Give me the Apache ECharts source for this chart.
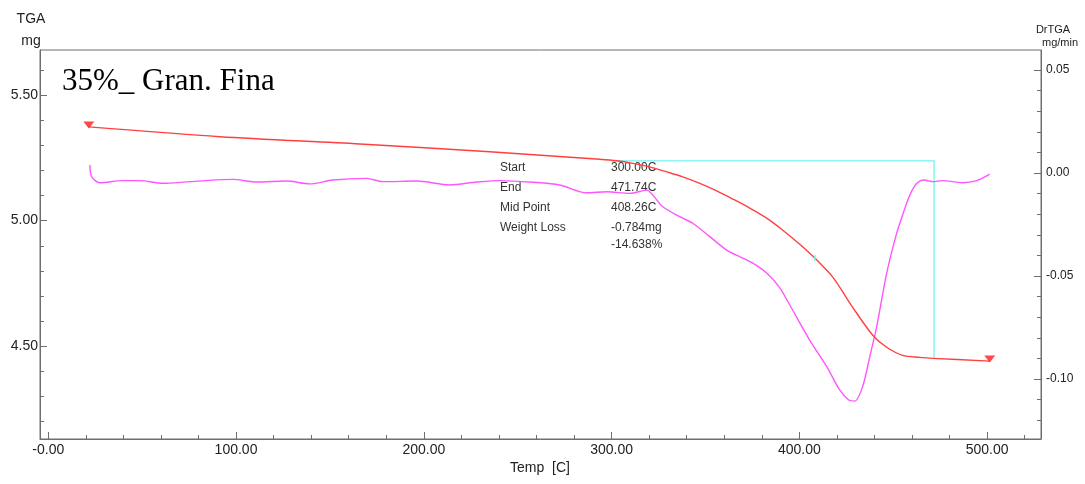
<!DOCTYPE html>
<html>
<head>
<meta charset="utf-8">
<script src="https://cdn.jsdelivr.net/npm/echarts@6/dist/echarts.min.js"></script>
<style>
html,body{margin:0;padding:0;background:#fff;}
#c{width:1085px;height:484px;}
</style>
</head>
<body>
<div id="c"></div>
<script>
// ---- data ----
const tgaTemp = [21.6, 91.4, 165.9, 235.1, 293.7, 302.8, 311.3, 320.3, 329.4, 337.9, 347.0, 356.0, 364.5, 373.6, 382.6, 391.2, 400.2, 408.2, 417.8, 428.4, 439.1, 446.5, 455.0, 464.1, 471.0, 501.4];
const tgaMass = [5.373, 5.334, 5.305, 5.274, 5.244, 5.238, 5.228, 5.214, 5.194, 5.174, 5.148, 5.118, 5.086, 5.050, 5.010, 4.962, 4.906, 4.851, 4.775, 4.655, 4.544, 4.496, 4.464, 4.456, 4.452, 4.441];

const dtgTemp = [22.2, 23.1, 27.5, 39.7, 48.8, 61.0, 75.4, 98.3, 111.1, 127.0, 139.3, 151.5, 169.6, 178.2, 196.3, 213.8, 228.2, 240.5, 258.0, 272.4, 286.8, 297.4, 309.7, 318.7, 321.9, 327.3, 336.3, 343.2, 352.3, 361.3, 368.2, 375.2, 382.6, 389.5, 396.4, 405.5, 414.6, 421.5, 426.3, 429.5, 433.7, 437.5, 441.2, 446.5, 451.8, 455.0, 458.2, 461.4, 464.1, 466.7, 471.0, 476.3, 486.9, 494.4, 501.4];
const dtgRate = [0.0039, -0.0018, -0.0047, -0.0037, -0.0037, -0.0050, -0.0042, -0.0031, -0.0044, -0.0039, -0.0053, -0.0034, -0.0026, -0.0042, -0.0039, -0.0058, -0.0044, -0.0037, -0.0045, -0.0058, -0.0096, -0.0091, -0.0099, -0.0083, -0.0107, -0.0164, -0.0212, -0.0244, -0.0309, -0.0374, -0.0406, -0.0437, -0.0485, -0.0556, -0.0665, -0.0811, -0.0940, -0.1053, -0.1102, -0.1107, -0.1037, -0.0892, -0.0746, -0.0487, -0.0293, -0.0204, -0.0121, -0.0063, -0.0039, -0.0034, -0.0042, -0.0037, -0.0047, -0.0037, -0.0005];

// step analysis (Start / End / weight loss)
const stepTemp = [300.00, 471.74, 471.74];
const stepMass = [5.238, 5.238, 4.452];
const midTemp = [408.26];
const midMass = [4.851];

const xTickValues = [0, 100, 200, 300, 400, 500];
const xTickLabels = ['-0.00', '100.00', '200.00', '300.00', '400.00', '500.00'];
const xMinorValues = [0, 20, 40, 60, 80, 100, 120, 140, 160, 180, 200, 220, 240, 260, 280, 300, 320, 340, 360, 380, 400, 420, 440, 460, 480, 500, 520];

const yLTickValues = [4.5, 5.0, 5.5];
const yLTickLabels = ['4.50', '5.00', '5.50'];
const yLMinorValues = [4.2, 4.3, 4.4, 4.5, 4.6, 4.7, 4.8, 4.9, 5.0, 5.1, 5.2, 5.3, 5.4, 5.5, 5.6];

const yRTickValues = [-0.10, -0.05, 0.00, 0.05];
const yRTickLabels = ['-0.10', '-0.05', '0.00', '0.05'];
const yRMinorValues = [-0.12, -0.11, -0.10, -0.09, -0.08, -0.07, -0.06, -0.05, -0.04, -0.03, -0.02, -0.01, 0.00, 0.01, 0.02, 0.03, 0.04, 0.05];

const annoNames = ['Start', 'End', 'Mid Point', 'Weight Loss', ''];
const annoValues = ['300.00C', '471.74C', '408.26C', '-0.784mg', '-14.638%'];

// ---- chart ----
const X_MIN = -4.4, X_MAX = 528.7;
const YL_MIN = 4.131, YL_MAX = 5.679;
const YR_MIN = -0.1291, YR_MAX = 0.0597;
const AXC = '#6e6e6e';
const FONT = '"Liberation Sans", Arial, sans-serif';

function fmt(values, labels) {
  return function (v) {
    for (let i = 0; i < values.length; i++) if (Math.abs(values[i] - v) < 1e-9) return labels[i];
    return '';
  };
}

const zip = (a, b) => a.map((v, i) => [v, b[i]]);

const chart = echarts.init(document.getElementById('c'), null, {renderer: 'canvas'});

const graphics = [
  {type: 'text', left: 62, top: 66, style: {text: '35%_ Gran. Fina', font: '31px "Liberation Serif", "Times New Roman", serif', fill: '#000'}},
  {type: 'text', x: 31, y: 19, style: {text: 'TGA', font: '14px ' + FONT, fill: '#222', align: 'center', verticalAlign: 'middle'}},
  {type: 'text', x: 31, y: 41, style: {text: 'mg', font: '14px ' + FONT, fill: '#222', align: 'center', verticalAlign: 'middle'}},
  {type: 'text', x: 1053, y: 30, style: {text: 'DrTGA', font: '11px ' + FONT, fill: '#222', align: 'center', verticalAlign: 'middle'}},
  {type: 'text', x: 1060, y: 43, style: {text: 'mg/min', font: '11px ' + FONT, fill: '#222', align: 'center', verticalAlign: 'middle'}},
  {type: 'text', x: 540, y: 468, style: {text: 'Temp  [C]', font: '14px ' + FONT, fill: '#222', align: 'center', verticalAlign: 'middle'}}
];
const annoY = [168, 188, 208, 228, 245];
annoNames.forEach((n, i) => {
  if (n) graphics.push({type: 'text', x: 500, y: annoY[i], style: {text: n, font: '12px ' + FONT, fill: '#333', verticalAlign: 'middle'}});
  graphics.push({type: 'text', x: 611, y: annoY[i], style: {text: annoValues[i], font: '12px ' + FONT, fill: '#333', verticalAlign: 'middle'}});
});

const baseAxis = {
  splitLine: {show: false},
  axisLine: {show: true, onZero: false, lineStyle: {color: AXC, width: 1}},
  axisTick: {show: true, inside: true, length: 7, lineStyle: {color: AXC}},
  axisLabel: {show: true, color: '#222', fontSize: 14, fontFamily: FONT}
};

const option = {
  animation: false,
  backgroundColor: '#fff',
  grid: {left: 40, right: 44, top: 50, bottom: 45, show: true, borderColor: AXC, borderWidth: 1, backgroundColor: 'transparent'},
  graphic: graphics,
  xAxis: [
    Object.assign({}, baseAxis, {
      type: 'value', min: X_MIN, max: X_MAX, position: 'bottom',
      axisTick: {show: true, inside: true, length: 7, lineStyle: {color: AXC}, customValues: xTickValues},
      axisLabel: {show: true, color: '#222', fontSize: 14, fontFamily: FONT, margin: 4, customValues: xTickValues, formatter: fmt(xTickValues, xTickLabels)}
    }),
    {
      type: 'value', min: X_MIN, max: X_MAX, position: 'bottom', splitLine: {show: false},
      axisLine: {show: false, onZero: false},
      axisTick: {show: true, inside: true, length: 4, lineStyle: {color: AXC}, customValues: xMinorValues},
      axisLabel: {show: false}
    }
  ],
  yAxis: [
    Object.assign({}, baseAxis, {
      type: 'value', min: YL_MIN, max: YL_MAX, position: 'left',
      axisTick: {show: true, inside: true, length: 7, lineStyle: {color: AXC}, customValues: yLTickValues},
      axisLabel: {show: true, color: '#222', fontSize: 14, fontFamily: FONT, margin: 2, customValues: yLTickValues, formatter: fmt(yLTickValues, yLTickLabels)}
    }),
    {
      type: 'value', min: YL_MIN, max: YL_MAX, position: 'left', splitLine: {show: false},
      axisLine: {show: false, onZero: false},
      axisTick: {show: true, inside: true, length: 4, lineStyle: {color: AXC}, customValues: yLMinorValues},
      axisLabel: {show: false}
    },
    Object.assign({}, baseAxis, {
      type: 'value', min: YR_MIN, max: YR_MAX, position: 'right',
      axisTick: {show: true, inside: true, length: 7, lineStyle: {color: AXC}, customValues: yRTickValues},
      axisLabel: {show: true, color: '#222', fontSize: 12, fontFamily: FONT, margin: 5, customValues: yRTickValues, formatter: fmt(yRTickValues, yRTickLabels)}
    }),
    {
      type: 'value', min: YR_MIN, max: YR_MAX, position: 'right', splitLine: {show: false},
      axisLine: {show: false, onZero: false},
      axisTick: {show: true, inside: true, length: 4, lineStyle: {color: AXC}, customValues: yRMinorValues},
      axisLabel: {show: false}
    }
  ],
  series: [
    {
      name: 'step', type: 'line', xAxisIndex: 0, yAxisIndex: 0,
      data: zip(stepTemp, stepMass), showSymbol: false, symbol: 'none',
      lineStyle: {color: '#6ff3f3', width: 1.3}, z: 2
    },
    {
      name: 'mid', type: 'scatter', xAxisIndex: 0, yAxisIndex: 0,
      data: zip(midTemp, midMass), symbol: 'rect', symbolSize: [2, 6],
      itemStyle: {color: '#6ff3f3'}, z: 4
    },
    {
      name: 'DrTGA', type: 'line', xAxisIndex: 0, yAxisIndex: 2,
      data: zip(dtgTemp, dtgRate), showSymbol: false, symbol: 'none', smooth: 0.3,
      lineStyle: {color: '#ff55ff', width: 1.4}, z: 3
    },
    {
      name: 'TGA', type: 'line', xAxisIndex: 0, yAxisIndex: 0,
      data: zip(tgaTemp, tgaMass), showSymbol: false, symbol: 'none', smooth: 0.3,
      lineStyle: {color: '#ff4040', width: 1.4}, z: 3
    },
    {
      name: 'TGA ends', type: 'scatter', xAxisIndex: 0, yAxisIndex: 0,
      data: [[tgaTemp[0], tgaMass[0]], [tgaTemp[tgaTemp.length - 1], tgaMass[tgaMass.length - 1]]],
      symbol: 'triangle', symbolRotate: 180, symbolSize: [11, 7], symbolOffset: [0, -2],
      itemStyle: {color: '#ff1a1a'}, z: 5
    }
  ]
};
chart.setOption(option);
</script>
</body>
</html>
